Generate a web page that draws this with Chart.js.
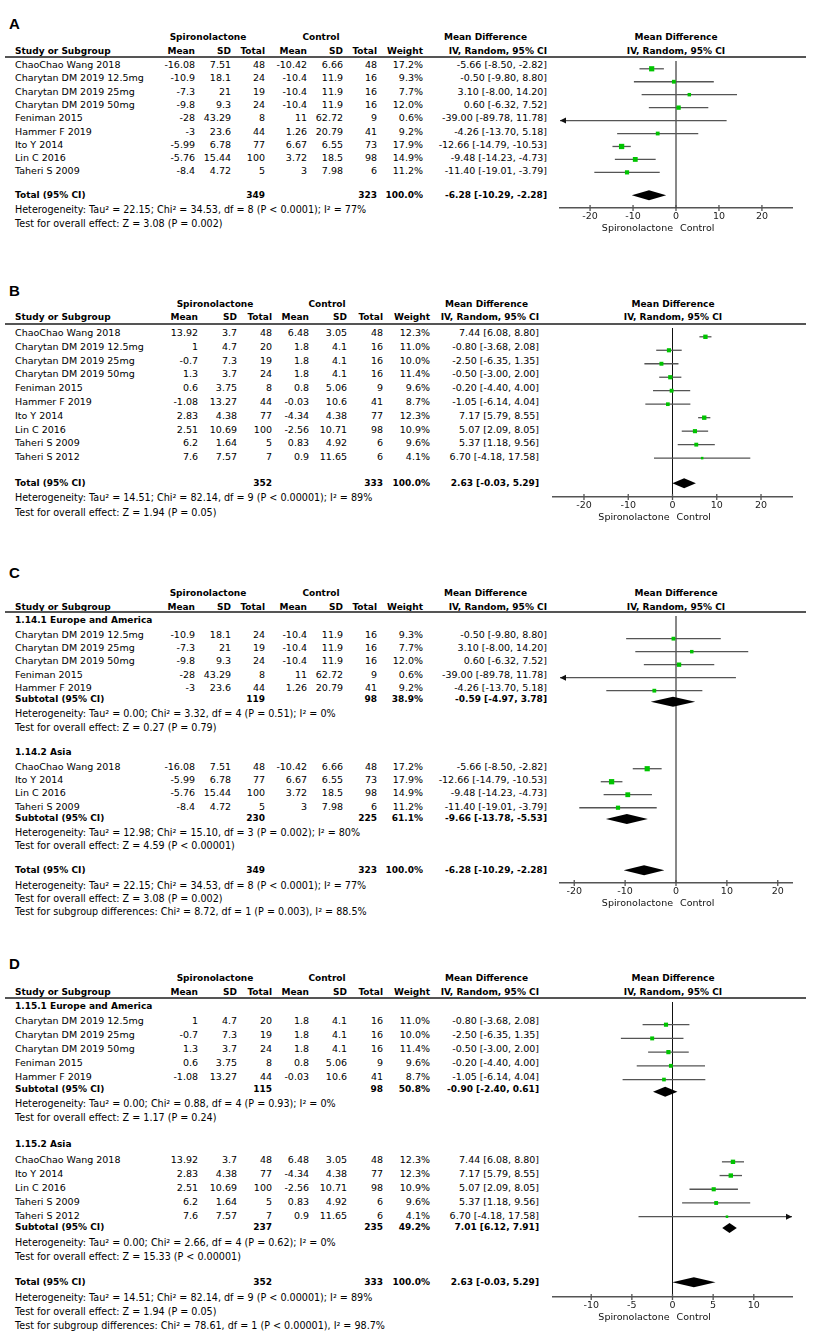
<!DOCTYPE html>
<html>
<head>
<meta charset="utf-8">
<script src="https://cdn.jsdelivr.net/npm/chart.js@4.4.0/dist/chart.umd.min.js"></script>
<style>
body { margin: 0; background: #fff; }
#page { position: relative; width: 813px; height: 1339px; overflow: hidden; font-family: "DejaVu Sans", sans-serif; color: #000; }
.t { position: absolute; white-space: nowrap; line-height: 1; transform: translateY(-50%); }
.rule { position: absolute; left: 5px; width: 801px; height: 2px; background: #555; }
canvas { position: absolute; }
</style>
</head>
<body>
<div id="page"></div>
<script>
// Panel A / C studies (outcome 1)
const studiesA = ['ChaoChao Wang 2018', 'Charytan DM 2019 12.5mg', 'Charytan DM 2019 25mg', 'Charytan DM 2019 50mg', 'Feniman 2015', 'Hammer F 2019', 'Ito Y 2014', 'Lin C 2016', 'Taheri S 2009'];
const spMeanA = [-16.08, -10.9, -7.3, -9.8, -28, -3, -5.99, -5.76, -8.4];
const spSdA = [7.51, 18.1, 21, 9.3, 43.29, 23.6, 6.78, 15.44, 4.72];
const spNA = [48, 24, 19, 24, 8, 44, 77, 100, 5];
const ctMeanA = [-10.42, -10.4, -10.4, -10.4, 11, 1.26, 6.67, 3.72, 3];
const ctSdA = [6.66, 11.9, 11.9, 11.9, 62.72, 20.79, 6.55, 18.5, 7.98];
const ctNA = [48, 16, 16, 16, 9, 41, 73, 98, 6];
const weightA = [17.2, 9.3, 7.7, 12.0, 0.6, 9.2, 17.9, 14.9, 11.2];
const mdA = [-5.66, -0.50, 3.10, 0.60, -39.00, -4.26, -12.66, -9.48, -11.40];
const loA = [-8.50, -9.80, -8.00, -6.32, -89.78, -13.70, -14.79, -14.23, -19.01];
const hiA = [-2.82, 8.80, 14.20, 7.52, 11.78, 5.18, -10.53, -4.73, -3.79];

// Panel B / D studies (outcome 2)
const studiesB = ['ChaoChao Wang 2018', 'Charytan DM 2019 12.5mg', 'Charytan DM 2019 25mg', 'Charytan DM 2019 50mg', 'Feniman 2015', 'Hammer F 2019', 'Ito Y 2014', 'Lin C 2016', 'Taheri S 2009', 'Taheri S 2012'];
const spMeanB = [13.92, 1, -0.7, 1.3, 0.6, -1.08, 2.83, 2.51, 6.2, 7.6];
const spSdB = [3.7, 4.7, 7.3, 3.7, 3.75, 13.27, 4.38, 10.69, 1.64, 7.57];
const spNB = [48, 20, 19, 24, 8, 44, 77, 100, 5, 7];
const ctMeanB = [6.48, 1.8, 1.8, 1.8, 0.8, -0.03, -4.34, -2.56, 0.83, 0.9];
const ctSdB = [3.05, 4.1, 4.1, 4.1, 5.06, 10.6, 4.38, 10.71, 4.92, 11.65];
const ctNB = [48, 16, 16, 16, 9, 41, 77, 98, 6, 6];
const weightB = [12.3, 11.0, 10.0, 11.4, 9.6, 8.7, 12.3, 10.9, 9.6, 4.1];
const mdB = [7.44, -0.80, -2.50, -0.50, -0.20, -1.05, 7.17, 5.07, 5.37, 6.70];
const loB = [6.08, -3.68, -6.35, -3.00, -4.40, -6.14, 5.79, 2.09, 1.18, -4.18];
const hiB = [8.80, 2.08, 1.35, 2.00, 4.00, 4.04, 8.55, 8.05, 9.56, 17.58];

// subgroups (indices into the study lists)
const europeA = [1, 2, 3, 4, 5];
const asiaA = [0, 6, 7, 8];
const europeB = [1, 2, 3, 4, 5];
const asiaB = [0, 6, 7, 8, 9];

// pooled rows: [total spiro, total control, weight, MD, lower, upper]
const totalA = [349, 323, 100.0, -6.28, -10.29, -2.28];
const totalB = [352, 333, 100.0, 2.63, -0.03, 5.29];
const subC1 = [119, 98, 38.9, -0.59, -4.97, 3.78];
const subC2 = [230, 225, 61.1, -9.66, -13.78, -5.53];
const subD1 = [115, 98, 50.8, -0.90, -2.40, 0.61];
const subD2 = [237, 235, 49.2, 7.01, 6.12, 7.91];

// x-axis ticks
const ticksWide = [-20, -10, 0, 10, 20];
const ticksNarrow = [-10, -5, 0, 5, 10];

// statistics lines
const notesA = ['Heterogeneity: Tau² = 22.15; Chi² = 34.53, df = 8 (P < 0.0001); I² = 77%', 'Test for overall effect: Z = 3.08 (P = 0.002)'];
const notesB = ['Heterogeneity: Tau² = 14.51; Chi² = 82.14, df = 9 (P < 0.00001); I² = 89%', 'Test for overall effect: Z = 1.94 (P = 0.05)'];
const notesC1 = ['Heterogeneity: Tau² = 0.00; Chi² = 3.32, df = 4 (P = 0.51); I² = 0%', 'Test for overall effect: Z = 0.27 (P = 0.79)'];
const notesC2 = ['Heterogeneity: Tau² = 12.98; Chi² = 15.10, df = 3 (P = 0.002); I² = 80%', 'Test for overall effect: Z = 4.59 (P < 0.00001)'];
const notesCT = [notesA[0], notesA[1], 'Test for subgroup differences: Chi² = 8.72, df = 1 (P = 0.003), I² = 88.5%'];
const notesD1 = ['Heterogeneity: Tau² = 0.00; Chi² = 0.88, df = 4 (P = 0.93); I² = 0%', 'Test for overall effect: Z = 1.17 (P = 0.24)'];
const notesD2 = ['Heterogeneity: Tau² = 0.00; Chi² = 2.66, df = 4 (P = 0.62); I² = 0%', 'Test for overall effect: Z = 15.33 (P < 0.00001)'];
const notesDT = [notesB[0], notesB[1], 'Test for subgroup differences: Chi² = 78.61, df = 1 (P < 0.00001), I² = 98.7%'];

const srcA = { name: studiesA, m1: spMeanA, s1: spSdA, n1: spNA, m2: ctMeanA, s2: ctSdA, n2: ctNA, w: weightA, md: mdA, lo: loA, hi: hiA };
const srcB = { name: studiesB, m1: spMeanB, s1: spSdB, n1: spNB, m2: ctMeanB, s2: ctSdB, n2: ctNB, w: weightB, md: mdB, lo: loB, hi: hiB };

const page = document.getElementById('page');

function txt(x, y, s, o) {
    o = o || {};
    const d = document.createElement('div');
    d.className = 't';
    d.textContent = s;
    d.style.top = y + 'px';
    d.style.fontSize = (o.size || 9.5) + 'px';
    if (o.bold) d.style.fontWeight = 'bold';
    if (o.font) d.style.fontFamily = o.font;
    if (o.align === 'right') d.style.right = (813 - x) + 'px';
    else if (o.align === 'center') { d.style.left = x + 'px'; d.style.transform = 'translate(-50%, -50%)'; }
    else d.style.left = x + 'px';
    page.appendChild(d);
}

function ciText(md, lo, hi) {
    return md.toFixed(2) + ' [' + lo.toFixed(2) + ', ' + hi.toFixed(2) + ']';
}

// column positions for the two table widths
const colsWide = { mean: 195, sd: 231, n: 265, cmean: 307, csd: 343, cn: 377, w: 423, ci: 547, spiro: 208, ctrl: 321, mdHead: 527 };
const colsNarrow = { mean: 198, sd: 237, n: 272, cmean: 309, csd: 347, cn: 383, w: 430, ci: 539, spiro: 215, ctrl: 327, mdHead: 528 };

function studyItems(src, idx, firstSlot) {
    return idx.map((i, k) => ({ kind: 'study', src, i, slot: firstSlot + k }));
}
function noteItems(list, slots) {
    return list.map((t, k) => ({ kind: 'note', text: t, slot: slots[k] }));
}

const panels = [
    {
        letter: 'A', letterY: 23, spiroY: 37, headY: 51, lineY: 57, y0: 65, pitch: 13.3,
        axisY: 208, plotL: 556, plotR: 796, plotHead: 676, cols: colsWide, xMin: -27, xMax: 27, ticks: ticksWide,
        items: [].concat(
            studyItems(srcA, [0, 1, 2, 3, 4, 5, 6, 7, 8], 0),
            [{ kind: 'sum', label: 'Total (95% CI)', v: totalA, slot: 9.77 }],
            noteItems(notesA, [10.9, 11.95])
        )
    },
    {
        letter: 'B', letterY: 290, spiroY: 304, headY: 317, lineY: 324, y0: 333, pitch: 13.8,
        axisY: 497, plotL: 549, plotR: 796, plotHead: 673, cols: colsNarrow, xMin: -27, xMax: 27, ticks: ticksWide,
        items: [].concat(
            studyItems(srcB, [0, 1, 2, 3, 4, 5, 6, 7, 8, 9], 0),
            [{ kind: 'sum', label: 'Total (95% CI)', v: totalB, slot: 10.87 }],
            noteItems(notesB, [11.96, 13.04])
        )
    },
    {
        letter: 'C', letterY: 572, spiroY: 593, headY: 607, lineY: 612, y0: 635, pitch: 13.2,
        axisY: 883, plotL: 556, plotR: 796, plotHead: 676, cols: colsWide, xMin: -22.8, xMax: 22.8, ticks: ticksWide,
        items: [].concat(
            [{ kind: 'group', label: '1.14.1 Europe and America', slot: -1.14 }],
            studyItems(srcA, europeA, 0),
            [{ kind: 'sum', label: 'Subtotal (95% CI)', v: subC1, slot: 4.85 }],
            noteItems(notesC1, [5.98, 7.05]),
            [{ kind: 'group', label: '1.14.2 Asia', slot: 8.86 }],
            studyItems(srcA, asiaA, 10),
            [{ kind: 'sum', label: 'Subtotal (95% CI)', v: subC2, slot: 13.86 }],
            noteItems(notesC2, [15.0, 15.98]),
            [{ kind: 'sum', label: 'Total (95% CI)', v: totalA, slot: 17.8 }],
            noteItems(notesCT, [19.0, 19.97, 20.95])
        )
    },
    {
        letter: 'D', letterY: 963, spiroY: 978, headY: 992, lineY: 998, y0: 1021, pitch: 13.9,
        axisY: 1297, plotL: 549, plotR: 796, plotHead: 673, cols: colsNarrow, xMin: -14.7, xMax: 14.7, ticks: ticksNarrow,
        items: [].concat(
            [{ kind: 'group', label: '1.15.1 Europe and America', slot: -1.08 }],
            studyItems(srcB, europeB, 0),
            [{ kind: 'sum', label: 'Subtotal (95% CI)', v: subD1, slot: 4.89 }],
            noteItems(notesD1, [5.97, 6.98]),
            [{ kind: 'group', label: '1.15.2 Asia', slot: 8.85 }],
            studyItems(srcB, asiaB, 10),
            [{ kind: 'sum', label: 'Subtotal (95% CI)', v: subD2, slot: 14.82 }],
            noteItems(notesD2, [15.97, 16.98]),
            [{ kind: 'sum', label: 'Total (95% CI)', v: totalB, slot: 18.78 }],
            noteItems(notesDT, [19.93, 20.94, 21.94])
        )
    }
];

// draws CI whiskers, diamonds, the null line and axis decorations
function forestPlugin(cis, diamonds) {
    return {
        id: 'forest',
        beforeDatasetsDraw(chart) {
            const { ctx, chartArea: a, scales: { x, y } } = chart;
            const x0 = x.getPixelForValue(0);
            ctx.save();
            ctx.strokeStyle = '#111';
            ctx.lineWidth = 1;
            ctx.beginPath();
            ctx.moveTo(x0, a.top);
            ctx.lineTo(x0, a.bottom);
            ctx.stroke();

            ctx.strokeStyle = '#555';
            ctx.fillStyle = '#111';
            ctx.lineWidth = 1.3;
            cis.forEach(c => {
                const py = y.getPixelForValue(c.slot);
                const l = x.getPixelForValue(Math.max(c.lo, x.min));
                const r = x.getPixelForValue(Math.min(c.hi, x.max));
                ctx.beginPath();
                ctx.moveTo(l, py);
                ctx.lineTo(r, py);
                ctx.stroke();
                if (c.lo < x.min) {
                    ctx.beginPath();
                    ctx.moveTo(l, py); ctx.lineTo(l + 6, py - 3); ctx.lineTo(l + 6, py + 3);
                    ctx.fill();
                }
                if (c.hi > x.max) {
                    ctx.beginPath();
                    ctx.moveTo(r, py); ctx.lineTo(r - 6, py - 3); ctx.lineTo(r - 6, py + 3);
                    ctx.fill();
                }
            });

            ctx.fillStyle = '#000';
            diamonds.forEach(d => {
                const py = y.getPixelForValue(d.slot);
                ctx.beginPath();
                ctx.moveTo(x.getPixelForValue(d.lo), py);
                ctx.lineTo(x.getPixelForValue(d.md), py - 5);
                ctx.lineTo(x.getPixelForValue(d.hi), py);
                ctx.lineTo(x.getPixelForValue(d.md), py + 5);
                ctx.closePath();
                ctx.fill();
            });
            ctx.restore();
        },
        afterDraw(chart) {
            const { ctx, chartArea: a, scales: { x } } = chart;
            const x0 = x.getPixelForValue(0);
            ctx.save();
            ctx.strokeStyle = '#555';
            ctx.lineWidth = 1.3;
            x.ticks.forEach(t => {
                const px = x.getPixelForValue(t.value);
                ctx.beginPath();
                ctx.moveTo(px, a.bottom - 3);
                ctx.lineTo(px, a.bottom + 3);
                ctx.stroke();
            });
            ctx.fillStyle = '#111';
            ctx.font = '9.5px "DejaVu Sans"';
            ctx.textBaseline = 'middle';
            ctx.textAlign = 'right';
            ctx.fillText('Spironolactone', x0 - 3, a.bottom + 21);
            ctx.textAlign = 'left';
            ctx.fillText('Control', x0 + 4, a.bottom + 21);
            ctx.restore();
        }
    };
}

panels.forEach(p => {
    const c = p.cols;
    const rowY = s => p.y0 + s * p.pitch;

    txt(9, p.letterY, p.letter, { size: 15, bold: true, font: '"Liberation Sans", sans-serif' });
    txt(c.spiro, p.spiroY, 'Spironolactone', { bold: true, align: 'center', size: 9 });
    txt(c.ctrl, p.spiroY, 'Control', { bold: true, align: 'center', size: 9 });
    txt(c.mdHead, p.spiroY, 'Mean Difference', { bold: true, align: 'right', size: 9 });
    txt(p.plotHead, p.spiroY, 'Mean Difference', { bold: true, align: 'center', size: 9 });
    txt(15, p.headY, 'Study or Subgroup', { bold: true, size: 9 });
    [['Mean', c.mean], ['SD', c.sd], ['Total', c.n], ['Mean', c.cmean], ['SD', c.csd], ['Total', c.cn], ['Weight', c.w], ['IV, Random, 95% CI', c.ci]]
        .forEach(h => txt(h[1], p.headY, h[0], { bold: true, align: 'right', size: 9 }));
    txt(p.plotHead, p.headY, 'IV, Random, 95% CI', { bold: true, align: 'center', size: 9 });

    const rule = document.createElement('div');
    rule.className = 'rule';
    rule.style.top = (p.lineY - 1) + 'px';
    page.appendChild(rule);

    const cis = [], diamonds = [], points = [], radii = [];
    p.items.forEach(it => {
        const y = rowY(it.slot);
        if (it.kind === 'study') {
            const s = it.src, i = it.i;
            txt(15, y, s.name[i]);
            txt(c.mean, y, String(s.m1[i]), { align: 'right' });
            txt(c.sd, y, String(s.s1[i]), { align: 'right' });
            txt(c.n, y, String(s.n1[i]), { align: 'right' });
            txt(c.cmean, y, String(s.m2[i]), { align: 'right' });
            txt(c.csd, y, String(s.s2[i]), { align: 'right' });
            txt(c.cn, y, String(s.n2[i]), { align: 'right' });
            txt(c.w, y, s.w[i].toFixed(1) + '%', { align: 'right' });
            txt(c.ci, y, ciText(s.md[i], s.lo[i], s.hi[i]), { align: 'right' });
            cis.push({ slot: it.slot, lo: s.lo[i], hi: s.hi[i] });
            points.push({ x: s.md[i], y: it.slot });
            radii.push(1.25 * Math.sqrt(s.w[i]) / Math.SQRT2);
        } else if (it.kind === 'group') {
            txt(15, y, it.label, { bold: true, size: 9 });
        } else if (it.kind === 'sum') {
            const v = it.v;
            txt(15, y, it.label, { bold: true, size: 9 });
            txt(c.n, y, String(v[0]), { bold: true, align: 'right', size: 9 });
            txt(c.cn, y, String(v[1]), { bold: true, align: 'right', size: 9 });
            txt(c.w, y, v[2].toFixed(1) + '%', { bold: true, align: 'right', size: 9 });
            txt(c.ci, y, ciText(v[3], v[4], v[5]), { bold: true, align: 'right', size: 9 });
            diamonds.push({ slot: it.slot, md: v[3], lo: v[4], hi: v[5] });
        } else {
            txt(15, y, it.text, { size: 9.6 });
        }
    });

    const axisH = 28;
    const cv = document.createElement('canvas');
    cv.width = p.plotR - p.plotL;
    cv.height = p.axisY - p.lineY + axisH;
    cv.style.left = p.plotL + 'px';
    cv.style.top = p.lineY + 'px';
    page.appendChild(cv);

    new Chart(cv.getContext('2d'), {
        type: 'scatter',
        data: {
            datasets: [{
                data: points,
                pointStyle: 'rect',
                pointRadius: radii,
                pointBackgroundColor: '#00c400',
                pointBorderWidth: 0
            }]
        },
        options: {
            responsive: false,
            animation: false,
            devicePixelRatio: 1,
            layout: { padding: 0 },
            plugins: { legend: { display: false }, tooltip: { enabled: false } },
            scales: {
                x: {
                    type: 'linear',
                    min: p.xMin,
                    max: p.xMax,
                    bounds: 'data',
                    afterBuildTicks: s => { s.ticks = p.ticks.map(v => ({ value: v })); },
                    afterFit: s => { s.height = axisH; },
                    grid: { display: false, drawTicks: false },
                    border: { display: true, color: '#555', width: 1.5 },
                    ticks: { padding: 3, color: '#222', autoSkip: false, maxRotation: 0, font: { family: 'DejaVu Sans', size: 9.5 } }
                },
                y: {
                    type: 'linear',
                    display: false,
                    reverse: true,
                    min: (p.lineY - p.y0) / p.pitch,
                    max: (p.axisY - p.y0) / p.pitch
                }
            }
        },
        plugins: [forestPlugin(cis, diamonds)]
    });
});
</script>
</body>
</html>
